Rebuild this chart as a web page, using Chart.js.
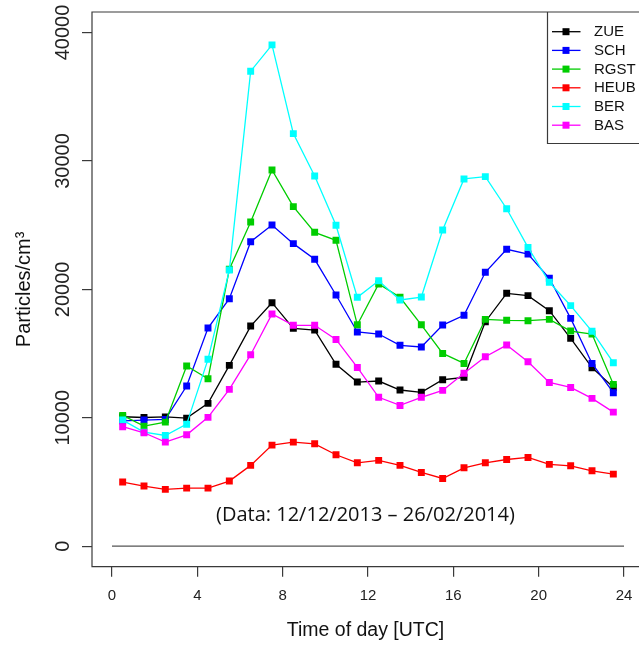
<!DOCTYPE html>
<html>
<head>
<meta charset="utf-8">
<script src="https://cdn.jsdelivr.net/npm/chart.js@4/dist/chart.umd.min.js"></script>
<style>
  html, body { margin: 0; padding: 0; background: #ffffff; }
  #wrap { width: 639px; height: 645px; }
</style>
</head>
<body>
<div id="wrap"><canvas id="c" width="639" height="645"></canvas></div>
<script>
// ---- data (hour of day, UTC) ----
const hours = [0.5, 1.5, 2.5, 3.5, 4.5, 5.5, 6.5, 7.5, 8.5, 9.5, 10.5, 11.5,
               12.5, 13.5, 14.5, 15.5, 16.5, 17.5, 18.5, 19.5, 20.5, 21.5, 22.5, 23.5];

const ZUE  = [10080, 10020, 10070, 9970, 11120, 14080, 17140, 18960, 16960, 16830, 14160, 12780,
              12860, 12160, 11980, 12960, 13150, 17480, 19690, 19510, 18340, 16180, 13900, 12370];
const SCH  = [9750, 9820, 9870, 12470, 16990, 19270, 23710, 25010, 23560, 22340, 19560, 16680,
              16520, 15640, 15510, 17220, 17980, 21330, 23120, 22750, 20860, 17740, 14230, 11950];
const RGST = [10180, 9350, 9660, 14030, 13040, 21560, 25250, 29300, 26440, 24440, 23820, 17240,
              20420, 19380, 17240, 15010, 14230, 17660, 17590, 17560, 17660, 16750, 16520, 12600];
const HEUB = [4990, 4680, 4420, 4520, 4520, 5070, 6290, 7870, 8100, 7970, 7120, 6490,
              6680, 6290, 5740, 5270, 6100, 6490, 6750, 6910, 6370, 6260, 5870, 5610];
const BER  = [9820, 8880, 8620, 9500, 14550, 21500, 36990, 39040, 32130, 28830, 24990, 19380,
              20670, 19170, 19400, 24620, 28600, 28780, 26280, 23270, 20550, 18730, 16730, 14290];
const BAS  = [9300, 8830, 8100, 8670, 10030, 12210, 14910, 18080, 17200, 17200, 16100, 13920,
              11590, 10960, 11590, 12130, 13460, 14750, 15660, 14360, 12750, 12360, 11510, 10440];

const seriesNames  = ["ZUE", "SCH", "RGST", "HEUB", "BER", "BAS"];
const seriesValues = [ZUE, SCH, RGST, HEUB, BER, BAS];
const seriesColors = ["#000000", "#0000FF", "#00CD00", "#FF0000", "#00FFFF", "#FF00FF"];

const xTicks = [0, 4, 8, 12, 16, 20, 24];
const yTicks = [0, 10000, 20000, 30000, 40000];
const zeroLine = [{x: 0, y: 0}, {x: 24, y: 0}];

const xTitle = "Time of day [UTC]";
const yTitle = "Particles/cm\u00B3";
const note = "(Data: 12/12/2013 \u2013 26/02/2014)";

const FONT = "'Liberation Sans', Arial, Helvetica, sans-serif";

// ---- datasets ----
const datasets = seriesNames.map((name, i) => ({
  label: name,
  data: hours.map((h, k) => ({x: h, y: seriesValues[i][k]})),
  borderColor: seriesColors[i],
  backgroundColor: seriesColors[i],
  borderWidth: 1.3,
  pointStyle: 'rect',
  pointRadius: 4.9,
  pointBorderWidth: 0,
  pointBackgroundColor: seriesColors[i],
  tension: 0,
  order: seriesNames.length - i
}));
datasets.push({
  label: '',
  data: zeroLine,
  borderColor: '#555555',
  borderWidth: 1.2,
  pointRadius: 0,
  order: 100
});

// ---- R-style decorations ----
const rStyle = {
  id: 'rStyle',
  afterDraw(chart) {
    const ctx = chart.ctx;
    const ca = chart.chartArea;
    const ys = chart.scales.y;
    const xs = chart.scales.x;
    ctx.save();
    // box (right edge is outside the picture)
    ctx.strokeStyle = '#3a3a3a';
    ctx.lineWidth = 1.2;
    ctx.beginPath();
    ctx.moveTo(chart.width + 5, ca.top);
    ctx.lineTo(ca.left, ca.top);
    ctx.lineTo(ca.left, ca.bottom);
    ctx.lineTo(chart.width + 5, ca.bottom);
    ctx.stroke();

    // rotated y tick labels
    ctx.fillStyle = '#222222';
    ctx.font = "20px " + FONT;
    ctx.textAlign = 'center';
    ctx.textBaseline = 'middle';
    yTicks.forEach(v => {
      const py = ys.getPixelForValue(v);
      ctx.save();
      ctx.translate(63.5, py);
      ctx.rotate(-Math.PI / 2);
      ctx.fillText(String(v), 0, 0);
      ctx.restore();
    });

    // note text
    ctx.font = "20px 'Open Sans', 'Noto Sans', sans-serif";
    ctx.textAlign = 'center';
    ctx.textBaseline = 'alphabetic';
    ctx.fillStyle = '#111111';
    ctx.fillText(note, xs.getPixelForValue(11.88), 521);

    // legend
    const lx = 547.5, ly = ca.top, lh = 131.5;
    ctx.strokeStyle = '#3a3a3a';
    ctx.lineWidth = 1.2;
    ctx.beginPath();
    ctx.moveTo(chart.width + 5, ly + lh);
    ctx.lineTo(lx, ly + lh);
    ctx.lineTo(lx, ly);
    ctx.stroke();
    ctx.font = "15px " + FONT;
    ctx.textAlign = 'left';
    ctx.textBaseline = 'middle';
    chart.data.datasets.filter(d => d.label).forEach((d, i) => {
      const yy = 31.7 + i * 18.7;
      ctx.strokeStyle = d.borderColor;
      ctx.lineWidth = 1.3;
      ctx.beginPath();
      ctx.moveTo(552, yy);
      ctx.lineTo(580.5, yy);
      ctx.stroke();
      ctx.fillStyle = d.borderColor;
      ctx.fillRect(566 - 3.5, yy - 3.5, 7, 7);
      ctx.fillStyle = '#111111';
      ctx.fillText(d.label, 594, yy + 0.5);
    });
    ctx.restore();
  }
};

new Chart(document.getElementById('c'), {
  type: 'line',
  data: { datasets },
  plugins: [rStyle],
  options: {
    responsive: false,
    animation: false,
    devicePixelRatio: 1,
    layout: { autoPadding: false, padding: { top: 12, left: 0, right: 0, bottom: 0 } },
    plugins: { legend: { display: false }, tooltip: { enabled: false } },
    elements: { line: { fill: false } },
    scales: {
      x: {
        type: 'linear',
        min: -0.9375,
        max: 24.703,
        afterBuildTicks: s => { s.ticks = xTicks.map(v => ({ value: v })); },
        afterFit: s => { s.height = 78.3; s.paddingLeft = 0; s.paddingRight = 0; },
        ticks: {
          font: { family: FONT, size: 15 },
          color: '#222222',
          padding: 10,
          maxRotation: 0,
          autoSkip: false
        },
        grid: {
          display: true,
          drawOnChartArea: false,
          drawTicks: true,
          tickLength: 10,
          color: '#3a3a3a',
          lineWidth: 1.2
        },
        border: { display: false },
        title: {
          display: true,
          text: xTitle,
          font: { family: FONT, size: 19.5 },
          color: '#111111',
          padding: { top: 0, bottom: 2.3 }
        }
      },
      y: {
        type: 'linear',
        min: -1600,
        max: 41600,
        afterBuildTicks: s => { s.ticks = yTicks.map(v => ({ value: v })); },
        afterFit: s => { s.width = 92; s.paddingTop = 0; s.paddingBottom = 0; },
        ticks: { display: false },
        grid: {
          display: true,
          drawOnChartArea: false,
          drawTicks: true,
          tickLength: 10,
          color: '#3a3a3a',
          lineWidth: 1.2
        },
        border: { display: false },
        title: {
          display: true,
          text: yTitle,
          font: { family: FONT, size: 20 },
          color: '#111111',
          padding: { top: 12, bottom: 0 }
        }
      }
    }
  }
});
</script>
</body>
</html>
